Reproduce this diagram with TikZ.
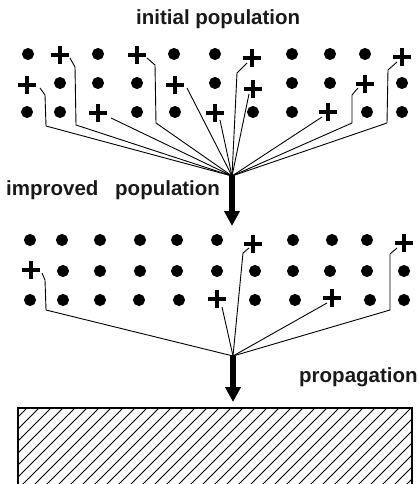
\documentclass[tikz,border=0pt]{standalone}
\usepackage{fontspec}
\setmainfont{Liberation Sans}
\usetikzlibrary{arrows.meta,shapes.misc,calc}
\begin{document}
\begin{tikzpicture}[x=1pt,y=-1pt,
  dotnode/.style={circle,fill=black,draw=black,line width=1pt,inner sep=0pt,minimum size=11pt},
  plusnode/.style={cross out,draw=black,line width=3.6pt,inner sep=0pt,minimum size=9.5pt,rotate=45},
  conn/.style={line width=0.9pt,line join=round},
  bigarrow/.style={line width=5.5pt,-{Triangle[width=15pt,length=15pt]}},
  hatch/.style={line width=1pt},
  lbl/.style={font=\bfseries\fontsize{20.5}{22}\selectfont,inner sep=0pt,anchor=base west,text=black!90}]
\useasboundingbox (0,0) rectangle (419,484);

% ---- labels
\node[lbl] (tInit) at (136,25) {initial population};
\node[lbl] (tImp) at (6,195) {improved};
\node[lbl] (tPop) at (115,195) {population};
\node[lbl] (tProp) at (299,382) {propagation};

% ---- top grid: dots
\foreach \x [count=\i] in {28,98,174,215,292,330,365}
  \node[dotnode] (ta\i) at (\x,54) {};
\foreach \x [count=\i] in {60,98,137,215,292,330,402}
  \node[dotnode] (tb\i) at (\x,83) {};
\foreach \x [count=\i] in {27,60,137,175,253,292,367,402}
  \node[dotnode] (tc\i) at (\x,112) {};
% ---- top grid: pluses
\node[plusnode] (P1a) at (60,55) {};
\node[plusnode] (P1b) at (137,55) {};
\node[plusnode] (P1c) at (252,58) {};
\node[plusnode] (P1d) at (402,57) {};
\node[plusnode] (P2a) at (27,85) {};
\node[plusnode] (P2b) at (175,85) {};
\node[plusnode] (P2c) at (253,89) {};
\node[plusnode] (P2d) at (365,84) {};
\node[plusnode] (P3a) at (98,113) {};
\node[plusnode] (P3b) at (215,113) {};
\node[plusnode] (P3c) at (328,112) {};

\coordinate (A) at (232,176);
\coordinate (Atip) at (232,226);

% ---- top connectors
\draw[conn] ($(P1a)+(10,3)$) -- ($(P1a)+(15,12)$) -- ($(P1a)+(16,70)$) -- (A);
\draw[conn] ($(P2a)+(13,3)$) -- ($(P2a)+(18,10)$) -- ($(P2a)+(19,41)$) -- (A);
\draw[conn] ($(P1b)+(10,3)$) -- ($(P1b)+(18,10)$) -- ($(P1b)+(19,68)$) -- (A);
\draw[conn] ($(P3a)+(13,5)$) -- (A);
\draw[conn] ($(P2b)+(12,3)$) -- (A);
\draw[conn] ($(P3b)+(5,7)$) -- (A);
\draw[conn] ($(P1c)+(-5,5)$) -- ($(P1c)+(-15,15)$) -- (A);
\draw[conn] ($(P2c)+(-4,5)$) -- (A);
\draw[conn] ($(P3c)+(-6,5)$) -- (A);
\draw[conn] ($(P2d)+(-7,4)$) -- ($(P2d)+(-13,11)$) -- ($(P2d)+(-13,39)$) -- (A);
\draw[conn] ($(P1d)+(-5,5)$) -- ($(P1d)+(-14,13)$) -- ($(P1d)+(-15,66)$) -- (A);

\draw[bigarrow] (A) -- (Atip);

% ---- middle grid: dots
\foreach \x [count=\i] in {30,62,100,140,177,217,293,332,367}
  \node[dotnode] (ma\i) at (\x,240) {};
\foreach \x [count=\i] in {63,100,140,177,217,255,293,330,367,404}
  \node[dotnode] (mb\i) at (\x,271) {};
\foreach \x [count=\i] in {30,63,100,139,179,255,295,370,404}
  \node[dotnode] (mc\i) at (\x,300) {};
% ---- middle grid: pluses
\node[plusnode] (Q1) at (31,270) {};
\node[plusnode] (Q2) at (253,244) {};
\node[plusnode] (Q3) at (404,243) {};
\node[plusnode] (Q4) at (217,299) {};
\node[plusnode] (Q5) at (332,298) {};

\coordinate (B) at (233,356);
\coordinate (Btip) at (233,402);

% ---- middle connectors
\draw[conn] ($(Q1)+(11,3)$) -- ($(Q1)+(14,10)$) -- ($(Q1)+(15,40)$) -- (B);
\draw[conn] ($(Q2)+(-4,4)$) -- ($(Q2)+(-10,9)$) -- (B);
\draw[conn] ($(Q3)+(-7,5)$) -- ($(Q3)+(-14,11)$) -- ($(Q3)+(-14,67)$) -- (B);
\draw[conn] ($(Q4)+(5,8)$) -- (B);
\draw[conn] ($(Q5)+(-5,5)$) -- (B);

\draw[bigarrow] (B) -- (Btip);

% ---- hatched block
\coordinate (R1) at (18,408);
\coordinate (R2) at (412,490);
\begin{scope}
  \clip (R1) rectangle (R2);
  \foreach \x in {-113,-101,...,420}
    \draw[hatch] (\x,500) -- (\x+100,400);
\end{scope}
\draw[line width=1.3pt] (R1) rectangle (R2);
\end{tikzpicture}
\end{document}
